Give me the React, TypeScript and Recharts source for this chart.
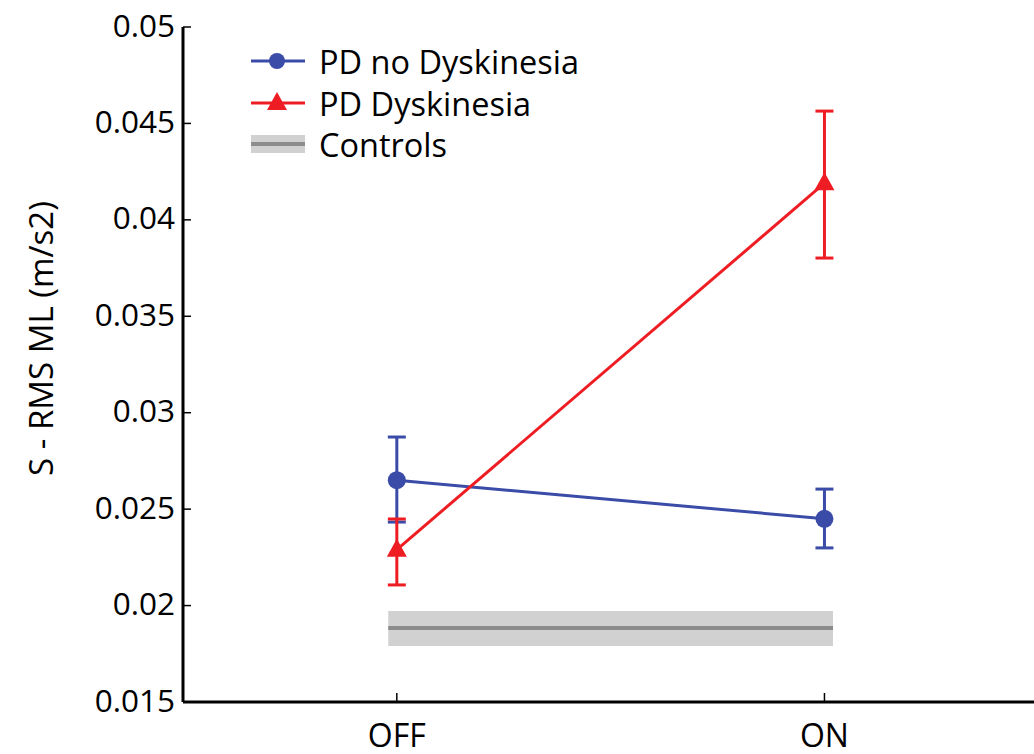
import React from 'react';
import {
  ComposedChart,
  Line,
  XAxis,
  YAxis,
  ErrorBar,
  ReferenceArea,
  ReferenceLine,
} from 'recharts';

// Conditions on the x axis
const CONDITIONS = ['OFF', 'ON'];
const CONDITION_X = [1, 2];

// PD no Dyskinesia: mean and error bar ends
const NO_DYS_MEAN = [0.0265, 0.0245];
const NO_DYS_LOW = [0.02433, 0.02299];
const NO_DYS_HIGH = [0.02874, 0.02604];

// PD Dyskinesia
const DYS_MEAN = [0.0229, 0.0419];
const DYS_LOW = [0.02107, 0.03802];
const DYS_HIGH = [0.02449, 0.04564];

// Controls band (mean +/- spread), spans a bit past both conditions
const CONTROLS_MEAN = 0.01884;
const CONTROLS_LOW = 0.0179;
const CONTROLS_HIGH = 0.01972;
const CONTROLS_X = [0.98, 2.02];

const Y_TICKS = [0.015, 0.02, 0.025, 0.03, 0.035, 0.04, 0.045, 0.05];

const COLORS = {
  noDys: '#3A4BA8',
  dys: '#EE1D24',
  band: '#D1D1D1',
  controls: '#8C8C8C',
  axis: '#000000',
};

const FONT = '"Open Sans", sans-serif';
const W = 1034;
const H = 754;

const buildSeries = (means: number[], lows: number[], highs: number[]) =>
  CONDITION_X.map((x, i) => ({
    x,
    y: means[i],
    err: [means[i] - lows[i], highs[i] - means[i]],
  }));

const noDysData = buildSeries(NO_DYS_MEAN, NO_DYS_LOW, NO_DYS_HIGH);
const dysData = buildSeries(DYS_MEAN, DYS_LOW, DYS_HIGH);

const triangle = (cx: number, cy: number) =>
  `M${cx},${cy - 11} L${cx + 10},${cy + 7} L${cx - 10},${cy + 7} Z`;

const YTick = ({ x, y, payload }: any) => (
  <g>
    <line x1={x + 8} x2={x + 16} y1={y} y2={y} stroke={COLORS.axis} strokeWidth={1.5} />
    <text x={x} y={y - 3} textAnchor="end" dominantBaseline="central" fontSize={31.5} fontFamily={FONT} fill="#000">
      {String(payload.value)}
    </text>
  </g>
);

const XTick = ({ x, y, payload }: any) => (
  <g>
    <line x1={x} x2={x} y1={y} y2={y - 9} stroke={COLORS.axis} strokeWidth={1.5} />
    <text x={x} y={y + 32} textAnchor="middle" dominantBaseline="central" fontSize={32} fontFamily={FONT} fill="#000">
      {CONDITIONS[CONDITION_X.indexOf(payload.value)]}
    </text>
  </g>
);

const YLabel = ({ viewBox }: any) => {
  const cx = 40;
  const cy = viewBox.y + viewBox.height / 2 - 26;
  return (
    <text
      x={cx}
      y={cy}
      transform={`rotate(-90, ${cx}, ${cy})`}
      textAnchor="middle"
      dominantBaseline="central"
      fontSize={33}
      fontFamily={FONT}
      fill="#000"
    >
      S - RMS ML (m/s2)
    </text>
  );
};

const LEGEND = [
  { label: 'PD no Dyskinesia', kind: 'circle', color: COLORS.noDys, y: 61 },
  { label: 'PD Dyskinesia', kind: 'triangle', color: COLORS.dys, y: 103 },
  { label: 'Controls', kind: 'band', color: COLORS.controls, y: 144 },
];

function ChartLegend() {
  return (
    <svg width={W} height={H} style={{ position: 'absolute', left: 0, top: 0, pointerEvents: 'none' }}>
      {LEGEND.map((item) => (
        <g key={item.label}>
          {item.kind === 'band' && (
            <rect x={251} y={item.y - 9} width={54} height={18} fill={COLORS.band} />
          )}
          <line
            x1={251}
            x2={305}
            y1={item.y}
            y2={item.y}
            stroke={item.color}
            strokeWidth={item.kind === 'band' ? 4 : 3}
          />
          {item.kind === 'circle' && <circle cx={277} cy={item.y} r={8} fill={item.color} />}
          {item.kind === 'triangle' && <path d={triangle(277, item.y)} fill={item.color} />}
          <text x={319} y={item.y} dominantBaseline="central" fontSize={32.5} fontFamily={FONT} fill="#000">
            {item.label}
          </text>
        </g>
      ))}
    </svg>
  );
}

export default function App() {
  return (
    <div style={{ position: 'absolute', left: 0, top: 0, width: W, height: H, background: '#fff' }}>
      <ComposedChart width={W} height={H} margin={{ top: 27, right: 0, bottom: 0, left: 0 }}>
        <XAxis
          type="number"
          dataKey="x"
          domain={[0.5, 2.49]}
          ticks={CONDITION_X}
          allowDataOverflow
          height={52}
          tickSize={0}
          tickMargin={0}
          tick={<XTick />}
          axisLine={{ stroke: COLORS.axis, strokeWidth: 3 }}
        />
        <YAxis
          type="number"
          domain={[0.015, 0.05]}
          ticks={Y_TICKS}
          allowDataOverflow
          width={183}
          tickSize={0}
          tickMargin={8}
          tick={<YTick />}
          axisLine={{ stroke: COLORS.axis, strokeWidth: 3 }}
          label={<YLabel />}
        />
        <ReferenceArea
          x1={CONTROLS_X[0]}
          x2={CONTROLS_X[1]}
          y1={CONTROLS_LOW}
          y2={CONTROLS_HIGH}
          fill={COLORS.band}
          fillOpacity={1}
          stroke="none"
        />
        <ReferenceLine
          segment={[
            { x: CONTROLS_X[0], y: CONTROLS_MEAN },
            { x: CONTROLS_X[1], y: CONTROLS_MEAN },
          ]}
          stroke={COLORS.controls}
          strokeWidth={4}
        />
        <Line
          data={noDysData}
          dataKey="y"
          stroke={COLORS.noDys}
          strokeWidth={3}
          isAnimationActive={false}
          dot={(p: any) => <circle key={`nd-${p.index}`} cx={p.cx} cy={p.cy} r={9} fill={COLORS.noDys} />}
          activeDot={false}
        >
          <ErrorBar dataKey="err" direction="y" width={9} strokeWidth={3} stroke={COLORS.noDys} isAnimationActive={false} />
        </Line>
        <Line
          data={dysData}
          dataKey="y"
          stroke={COLORS.dys}
          strokeWidth={3}
          isAnimationActive={false}
          dot={(p: any) => <path key={`d-${p.index}`} d={triangle(p.cx, p.cy)} fill={COLORS.dys} />}
          activeDot={false}
        >
          <ErrorBar dataKey="err" direction="y" width={9} strokeWidth={3} stroke={COLORS.dys} isAnimationActive={false} />
        </Line>
      </ComposedChart>
      <ChartLegend />
    </div>
  );
}
